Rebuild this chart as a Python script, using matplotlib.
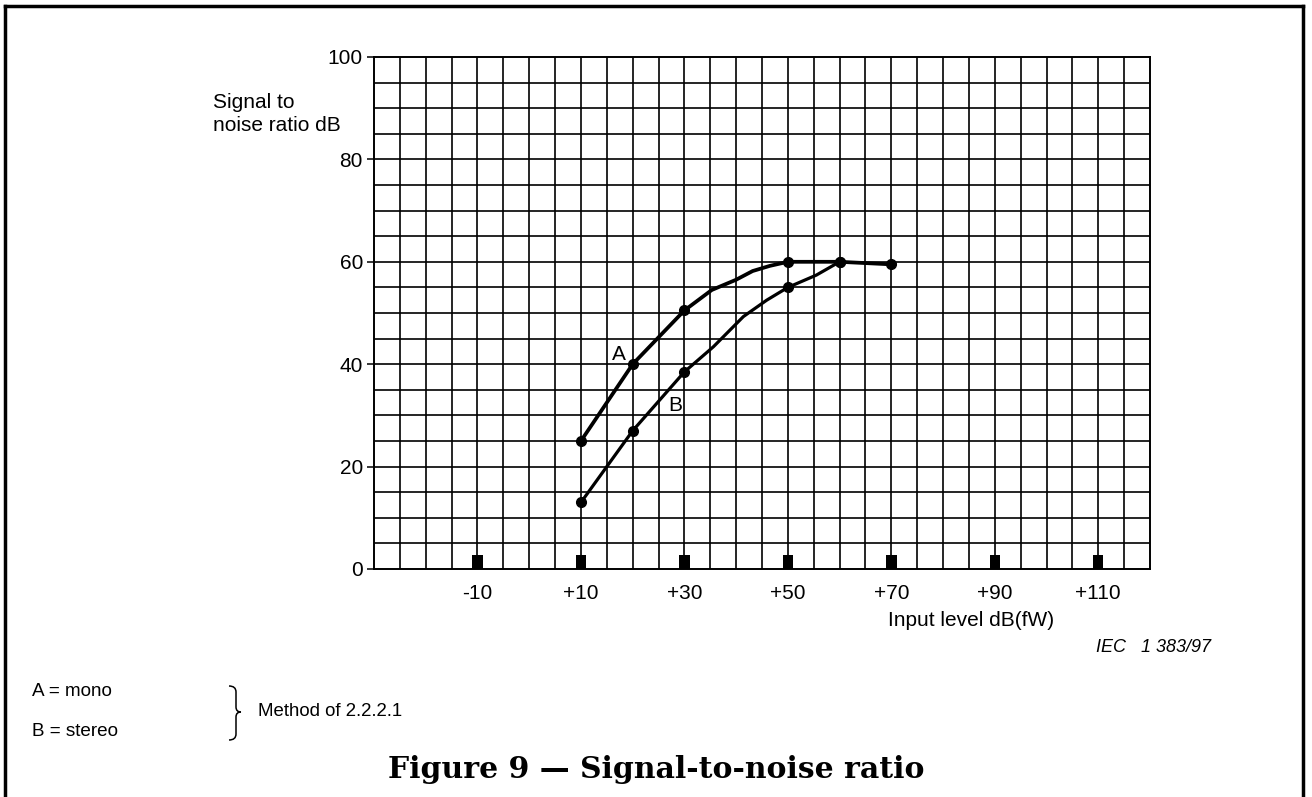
import matplotlib
matplotlib.use("Agg")
import matplotlib.pyplot as plt
from matplotlib.lines import Line2D
from matplotlib.path import Path
from matplotlib.patches import PathPatch

# Measured points (input level dB(fW), S/N dB)
mono_x = [10, 20, 30, 50, 60, 70]
mono_y = [25, 40, 50.5, 60, 60, 59.5]
stereo_x = [10, 20, 30, 50, 60]
stereo_y = [13, 27, 38.5, 55, 60]

# Hand-drawn bend points of the connecting curves (no markers)
mono_bend_x = [35.3, 40, 43.2, 46.5]
mono_bend_y = [54.5, 56.5, 58.2, 59.2]
stereo_bend_x = [35.6, 41.4, 45.9, 55.5]
stereo_bend_y = [43.4, 49.3, 52.5, 57.4]

x_ticks = [-10, 10, 30, 50, 70, 90, 110]
x_tick_labels = ["-10", "+10", "+30", "+50", "+70", "+90", "+110"]
y_ticks = [0, 20, 40, 60, 80, 100]
y_tick_labels = ["0", "20", "40", "60", "80", "100"]

W, H = 1312, 797
plt.rcParams["font.family"] = ["Liberation Sans", "DejaVu Sans"]
fig = plt.figure(figsize=(W / 100, H / 100), dpi=100)


def fx(px):
    return px / W


def fy(py):
    return 1 - py / H


ax = fig.add_axes([fx(374), fy(569), fx(1150) - fx(374), fy(57) - fy(569)])
ax.set_xlim(-30, 120)
ax.set_ylim(0, 100)

# grid every 5 units
for gx in range(-25, 120, 5):
    ax.axvline(gx, color="black", lw=1.2, zorder=1)
for gy in range(5, 100, 5):
    ax.axhline(gy, color="black", lw=1.2, zorder=1)
for s in ax.spines.values():
    s.set_linewidth(1.4)

ax.set_xticks(x_ticks)
ax.set_xticklabels(x_tick_labels, fontsize=15)
ax.set_yticks(y_ticks)
ax.set_yticklabels(y_tick_labels, fontsize=15)
ax.tick_params(axis="x", length=0, pad=11)
ax.tick_params(axis="y", length=5, width=1.1, pad=3)

# square markers on the abscissa at labelled levels
ax.bar(x_ticks, 2.7, width=2.0, bottom=0, color="black", zorder=3)


def merged(xs, ys, bx, by):
    pts = sorted(zip(list(xs) + list(bx), list(ys) + list(by)))
    return [p[0] for p in pts], [p[1] for p in pts]


ax_m, ay_m = merged(mono_x, mono_y, mono_bend_x, mono_bend_y)
ax_s, ay_s = merged(stereo_x, stereo_y, stereo_bend_x, stereo_bend_y)
ax.plot(ax_m, ay_m, color="black", lw=2.7, zorder=4, solid_joinstyle="round")
ax.plot(ax_s, ay_s, color="black", lw=2.3, zorder=4, solid_joinstyle="round")
ax.plot(mono_x, mono_y, "o", color="black", ms=7, zorder=5)
ax.plot(stereo_x, stereo_y, "o", color="black", ms=7, zorder=5)

ax.text(17.3, 41.8, "A", fontsize=15, ha="center", va="center", zorder=6)
ax.text(28.2, 32.0, "B", fontsize=15, ha="center", va="center", zorder=6)

# axis captions
fig.text(fx(213), fy(114), "Signal to\nnoise ratio dB", fontsize=15,
         ha="left", va="center", linespacing=1.25)
fig.text(fx(888), fy(620), "Input level dB(fW)", fontsize=15,
         ha="left", va="center")
fig.text(fx(1096), fy(648), "IEC   1 383/97", fontsize=13, style="italic",
         ha="left", va="center")

# key
fig.text(fx(32), fy(692), "A = mono", fontsize=13.6, ha="left", va="center")
fig.text(fx(32), fy(731), "B = stereo", fontsize=13.6, ha="left", va="center")
fig.text(fx(258), fy(712), "Method of 2.2.2.1", fontsize=13.4,
         ha="left", va="center")

# right brace joining the key lines
bx0, bx1, tip = 229, 236, 241
top, mid, bot = 686, 712, 740
upper = [(bx0, top), (bx1, top), (bx1, top + 6),
         (bx1, mid - 5), (bx1, mid), (tip, mid)]
upper_codes = [Path.MOVETO, Path.CURVE3, Path.CURVE3,
               Path.LINETO, Path.CURVE3, Path.CURVE3]
lower = [(tip, mid), (bx1, mid), (bx1, mid + 5),
         (bx1, bot - 6), (bx1, bot), (bx0, bot)]
lower_codes = [Path.MOVETO, Path.CURVE3, Path.CURVE3,
               Path.LINETO, Path.CURVE3, Path.CURVE3]
for vv, cc in [(upper, upper_codes), (lower, lower_codes)]:
    p = Path([(fx(x), fy(y)) for x, y in vv], cc)
    fig.add_artist(PathPatch(p, fill=False, lw=1.1, edgecolor="black",
                             transform=fig.transFigure))

# title
fig.text(fx(656), fy(770), "Figure 9 \u2014 Signal-to-noise ratio",
         fontsize=21.5, fontweight="bold", family="DejaVu Serif",
         ha="center", va="center")

# page frame (open at the bottom)
for xs, ys in [([5, 5], [6, 797]), ([5, 1303], [6, 6]), ([1303, 1303], [6, 797])]:
    fig.add_artist(Line2D([fx(v) for v in xs], [fy(v) for v in ys],
                          color="black", lw=2.5))

fig.savefig("out.png", dpi=100)
